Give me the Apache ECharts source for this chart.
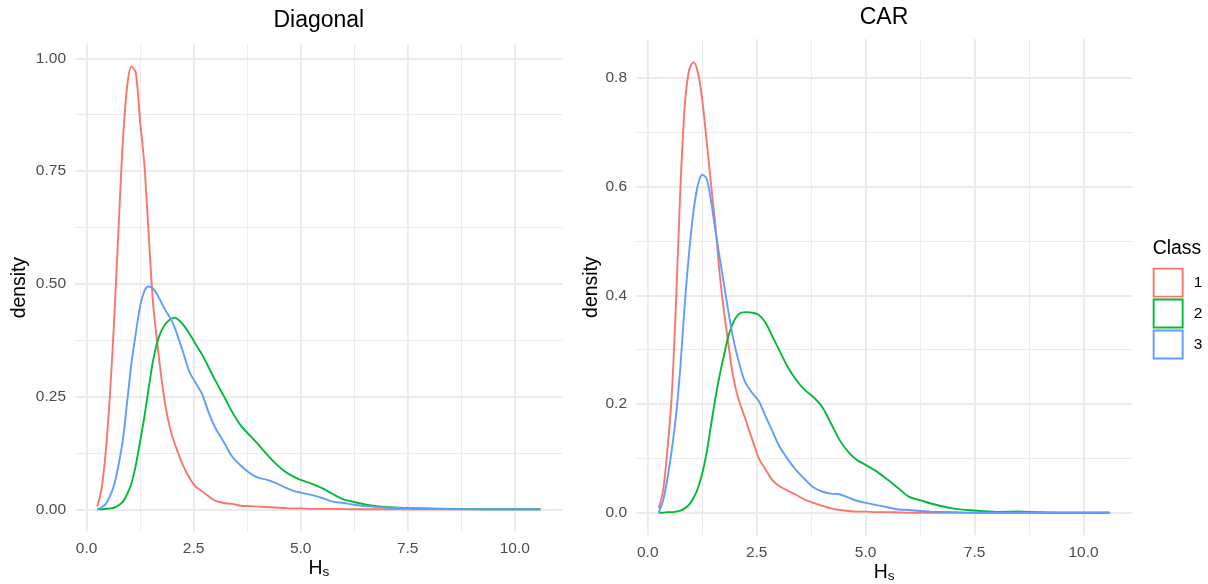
<!DOCTYPE html>
<html>
<head>
<meta charset="utf-8">
<title>Density of Hs by class</title>
<script src="https://cdn.jsdelivr.net/npm/echarts@6/dist/echarts.min.js"></script>
<style>
  html, body { margin: 0; padding: 0; background: #fff; }
  #chart { width: 1208px; height: 584px; }
</style>
</head>
<body>
<div id="chart"></div>
<script>
// values (same Hs grid for every curve)
const hs = [0.25, 0.35, 0.45, 0.55, 0.65, 0.75, 0.85, 0.95, 1.05, 1.15, 1.25, 1.35, 1.45, 1.55, 1.65, 1.75, 1.85, 1.95, 2.05, 2.15, 2.25,
  2.4, 2.55, 2.7, 2.85, 3.0, 3.2, 3.4, 3.6, 3.8, 4.0, 4.2, 4.4, 4.6, 4.8, 5.0,
  5.25, 5.5, 5.75, 6.0, 6.25, 6.5, 7.0, 7.5, 8.0, 8.5, 9.0, 9.5, 10.0, 10.6];

// Diagonal panel
const diagClass1 = [0.006, 0.045, 0.13, 0.26, 0.43, 0.63, 0.82, 0.94, 0.982, 0.968, 0.86, 0.765, 0.61, 0.46, 0.37, 0.29, 0.225, 0.18, 0.148, 0.122, 0.098,
  0.07, 0.05, 0.04, 0.029, 0.019, 0.014, 0.012, 0.008, 0.007, 0.006, 0.005, 0.004, 0.003, 0.002, 0.002,
  0.001, 0.001, 0.001, 0.0005, 0, 0, 0, 0, 0, 0, 0, 0, 0, 0];
const diagClass2 = [0, 0, 0.001, 0.002, 0.004, 0.009, 0.017, 0.034, 0.058, 0.098, 0.15, 0.205, 0.268, 0.328, 0.37, 0.396, 0.412, 0.421, 0.425, 0.42, 0.41,
  0.39, 0.366, 0.343, 0.315, 0.287, 0.252, 0.216, 0.186, 0.165, 0.145, 0.123, 0.103, 0.086, 0.074, 0.065,
  0.057, 0.047, 0.034, 0.022, 0.016, 0.011, 0.005, 0.003, 0.002, 0.001, 0.0005, 0, 0, 0];
const diagClass3 = [0, 0.004, 0.012, 0.03, 0.056, 0.1, 0.155, 0.24, 0.325, 0.39, 0.45, 0.484, 0.494, 0.49, 0.476, 0.458, 0.44, 0.425, 0.405, 0.378, 0.35,
  0.305, 0.28, 0.255, 0.215, 0.182, 0.15, 0.117, 0.097, 0.081, 0.07, 0.066, 0.059, 0.05, 0.042, 0.037,
  0.032, 0.025, 0.017, 0.014, 0.01, 0.007, 0.004, 0.002, 0.001, 0.0005, 0, 0, 0, 0];

// CAR panel
const carClass1 = [0.008, 0.04, 0.115, 0.215, 0.39, 0.6, 0.75, 0.815, 0.829, 0.81, 0.76, 0.685, 0.606, 0.53, 0.44, 0.37, 0.31, 0.255, 0.218, 0.193, 0.17,
  0.134, 0.1, 0.08, 0.061, 0.05, 0.041, 0.033, 0.024, 0.018, 0.013, 0.008, 0.005, 0.003, 0.002, 0.002,
  0.001, 0.001, 0.0005, 0, 0, 0, 0, 0, 0, 0, 0, 0, 0, 0];
const carClass2 = [0, 0, 0.001, 0.001, 0.002, 0.004, 0.008, 0.015, 0.027, 0.045, 0.072, 0.11, 0.16, 0.21, 0.253, 0.29, 0.325, 0.348, 0.362, 0.368, 0.369,
  0.368, 0.364, 0.35, 0.326, 0.302, 0.27, 0.245, 0.226, 0.213, 0.195, 0.165, 0.134, 0.112, 0.097, 0.088,
  0.076, 0.061, 0.045, 0.029, 0.023, 0.017, 0.008, 0.004, 0.0015, 0.0025, 0.0008, 0, 0, 0];
const carClass3 = [0, 0.022, 0.062, 0.115, 0.18, 0.27, 0.385, 0.48, 0.555, 0.603, 0.622, 0.615, 0.575, 0.52, 0.47, 0.42, 0.37, 0.325, 0.29, 0.26, 0.238,
  0.22, 0.205, 0.178, 0.152, 0.125, 0.1, 0.079, 0.062, 0.047, 0.039, 0.035, 0.034, 0.028, 0.022, 0.018,
  0.014, 0.01, 0.006, 0.005, 0.003, 0.002, 0.001, 0, 0, 0, 0, 0, 0, 0];

const classNames = ['1', '2', '3'];
const panelTitles = ['Diagonal', 'CAR'];
const xMajor = [0, 2.5, 5, 7.5, 10];
const xMinor = [1.25, 3.75, 6.25, 8.75];
const diagYMajor = [0, 0.25, 0.5, 0.75, 1];
const diagYMinor = [0.125, 0.375, 0.625, 0.875];
const carYMajor = [0, 0.2, 0.4, 0.6, 0.8];
const carYMinor = [0.1, 0.3, 0.5, 0.7];

const font = "'Liberation Sans', Arial, sans-serif";
const colors = ['#F8766D', '#00BA38', '#619CFF'];
const gridColor = '#EBEBEB';

const chart = echarts.init(document.getElementById('chart'));

function xAxes(gridIndex) {
  return [
    {
      type: 'value', gridIndex: gridIndex, min: -0.27, max: 11.12,
      axisLine: { show: false, onZero: false },
      axisTick: { show: false, customValues: xMajor },
      axisLabel: { customValues: xMajor, formatter: v => v.toFixed(1), color: '#4D4D4D', fontSize: 15.5, fontFamily: font, margin: 9 },
      splitLine: { lineStyle: { color: gridColor, width: 1.9 } },
      name: '{h|H}{s|s}', nameLocation: 'middle', nameGap: 28, nameMoveOverlap: false,
      nameTextStyle: {
        color: '#000', fontFamily: font,
        rich: {
          h: { fontSize: 19.4, lineHeight: 20, verticalAlign: 'top', fontFamily: font, color: '#000' },
          s: { fontSize: 13.6, lineHeight: 14, padding: [9, 0, 0, 0], verticalAlign: 'bottom', fontFamily: font, color: '#000' }
        }
      }
    },
    {
      type: 'value', gridIndex: gridIndex, min: -0.27, max: 11.12, position: 'bottom',
      axisLine: { show: false, onZero: false },
      axisTick: { show: false, customValues: xMinor },
      axisLabel: { show: false },
      splitLine: { lineStyle: { color: gridColor, width: 0.95 } }
    }
  ];
}

function yAxes(gridIndex, min, max, major, minor, digits, gap) {
  return [
    {
      type: 'value', gridIndex: gridIndex, min: min, max: max,
      axisLine: { show: false, onZero: false },
      axisTick: { show: false, customValues: major },
      axisLabel: { customValues: major, formatter: v => v.toFixed(digits), color: '#4D4D4D', fontSize: 15.5, fontFamily: font, margin: 9 },
      splitLine: { lineStyle: { color: gridColor, width: 1.9 } },
      name: 'density', nameLocation: 'middle', nameGap: gap, nameMoveOverlap: false,
      nameTextStyle: { color: '#000', fontSize: 19.4, fontFamily: font }
    },
    {
      type: 'value', gridIndex: gridIndex, min: min, max: max, position: 'left',
      axisLine: { show: false, onZero: false },
      axisTick: { show: false, customValues: minor },
      axisLabel: { show: false },
      splitLine: { lineStyle: { color: gridColor, width: 0.95 } }
    }
  ];
}

function curves(panel, arrays) {
  return arrays.map((arr, i) => ({
    type: 'line',
    name: classNames[i],
    xAxisIndex: panel * 2,
    yAxisIndex: panel * 2,
    data: hs.map((x, k) => [x, arr[k]]),
    showSymbol: false,
    smooth: 0.3,
    lineStyle: { color: colors[i], width: 1.9 },
    itemStyle: { color: colors[i] },
    silent: true
  }));
}

const option = {
  backgroundColor: '#fff',
  animation: false,
  grid: [
    { left: 75, right: 645.3, top: 43.9, bottom: 52.6, outerBoundsMode: 'none' },
    { left: 636, right: 75.7, top: 39.1, bottom: 48.75, outerBoundsMode: 'none' }
  ],
  xAxis: xAxes(0).concat(xAxes(1)),
  yAxis: yAxes(0, -0.049, 1.032, diagYMajor, diagYMinor, 2, 46)
    .concat(yAxes(1, -0.0415, 0.8715, carYMajor, carYMinor, 1, 35)),
  legend: {
    orient: 'vertical', left: 1152.7, top: 267.7, padding: 0,
    itemWidth: 29, itemHeight: 28, itemGap: 1, selectedMode: false,
    data: classNames.map((n, i) => ({
      name: n, icon: 'rect',
      itemStyle: { color: '#fff', borderColor: colors[i], borderWidth: 1.9 }
    })),
    textStyle: { fontSize: 15.5, color: '#000', fontFamily: font, padding: [0, 0, 0, 6] }
  },
  graphic: [
    { type: 'text', x: 318.8, y: 20.8, style: { text: panelTitles[0], font: '23px ' + font, fill: '#000', align: 'center', verticalAlign: 'middle' } },
    { type: 'text', x: 884, y: 17.5, style: { text: panelTitles[1], font: '23px ' + font, fill: '#000', align: 'center', verticalAlign: 'middle' } },
    { type: 'text', x: 1152.7, y: 248.8, style: { text: 'Class', font: '19.4px ' + font, fill: '#000', align: 'left', verticalAlign: 'middle' } }
  ],
  series: curves(0, [diagClass1, diagClass2, diagClass3])
    .concat(curves(1, [carClass1, carClass2, carClass3]))
};

chart.setOption(option);
</script>
</body>
</html>
